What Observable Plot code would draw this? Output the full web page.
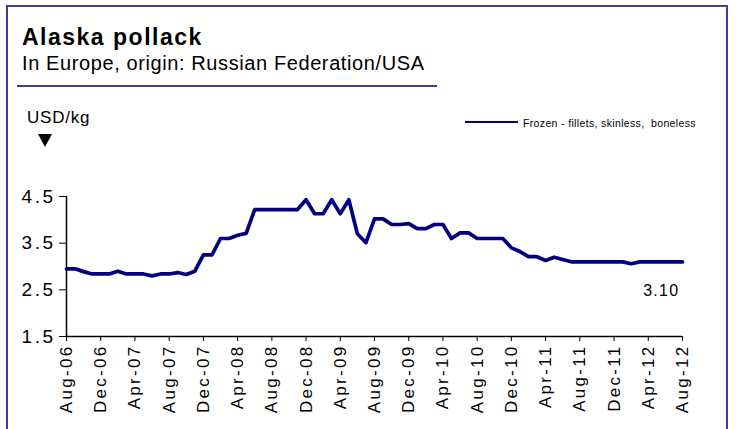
<!DOCTYPE html>
<html><head><meta charset="utf-8">
<script src="https://cdn.jsdelivr.net/npm/d3@7"></script>
<script src="https://cdn.jsdelivr.net/npm/@observablehq/plot@0.6"></script>
<style>
body{margin:0;background:#fff;font-family:"Liberation Sans",Arial,sans-serif;color:#000;}
#wrap{position:relative;width:739px;height:429px;overflow:hidden;background:#fff;}
#frame{position:absolute;left:6px;top:5px;width:722px;height:440px;border:2px solid #3c3ca8;box-sizing:border-box;}
.t{position:absolute;line-height:1;white-space:nowrap;}
#title{left:22px;top:25.5px;font-size:23px;font-weight:bold;letter-spacing:1.5px;}
#subtitle{left:22px;top:52.5px;font-size:20px;letter-spacing:0.6px;}
#rule{position:absolute;left:17px;top:85px;width:420px;height:2px;background:#3c3ca8;}
#unit{left:27px;top:109px;font-size:17px;letter-spacing:0.8px;}
#tri{position:absolute;left:38px;top:134px;width:0;height:0;border-left:7px solid transparent;border-right:7px solid transparent;border-top:13px solid #000;}
#legline{position:absolute;left:465px;top:121px;width:53px;height:2px;background:#000080;}
#legtext{left:523px;top:118px;font-size:10.5px;letter-spacing:0.35px;}
#chart{position:absolute;left:0;top:0;}
g[aria-label="y-axis tick label"] text{letter-spacing:2.5px;}
g[aria-label="x-axis tick label"] text{letter-spacing:2.3px;}
g[aria-label="text"] text{letter-spacing:1.3px;}
</style>
</head><body>
<div id="wrap">
  <div id="chart"></div>
  <div id="frame"></div>
  <div class="t" id="title">Alaska pollack</div>
  <div class="t" id="subtitle">In Europe, origin: Russian Federation/USA</div>
  <div id="rule"></div>
  <div class="t" id="unit">USD/kg</div>
  <div id="tri"></div>
  <div id="legline"></div>
  <div class="t" id="legtext">Frozen - fillets, skinless,&nbsp; boneless</div>
</div>
<script>
const months = [
  "Aug-06","Sep-06","Oct-06","Nov-06","Dec-06",
  "Jan-07","Feb-07","Mar-07","Apr-07","May-07","Jun-07","Jul-07","Aug-07","Sep-07","Oct-07","Nov-07","Dec-07",
  "Jan-08","Feb-08","Mar-08","Apr-08","May-08","Jun-08","Jul-08","Aug-08","Sep-08","Oct-08","Nov-08","Dec-08",
  "Jan-09","Feb-09","Mar-09","Apr-09","May-09","Jun-09","Jul-09","Aug-09","Sep-09","Oct-09","Nov-09","Dec-09",
  "Jan-10","Feb-10","Mar-10","Apr-10","May-10","Jun-10","Jul-10","Aug-10","Sep-10","Oct-10","Nov-10","Dec-10",
  "Jan-11","Feb-11","Mar-11","Apr-11","May-11","Jun-11","Jul-11","Aug-11","Sep-11","Oct-11","Nov-11","Dec-11",
  "Jan-12","Feb-12","Mar-12","Apr-12","May-12","Jun-12","Jul-12","Aug-12"
];
const frozenFillets = [
  2.95,2.95,2.89,2.84,2.84,
  2.84,2.90,2.84,2.84,2.84,2.80,2.84,2.84,2.87,2.83,2.90,3.25,
  3.25,3.60,3.60,3.67,3.71,4.22,4.22,4.22,4.22,4.22,4.22,4.43,
  4.13,4.13,4.43,4.13,4.43,3.70,3.51,4.02,4.02,3.90,3.90,3.92,
  3.81,3.81,3.90,3.90,3.60,3.72,3.72,3.60,3.60,3.60,3.60,3.40,
  3.32,3.21,3.21,3.13,3.20,3.15,3.10,3.10,3.10,3.10,3.10,3.10,
  3.10,3.06,3.10,3.10,3.10,3.10,3.10,3.10
];
const xTickLabels = ["Aug-06","Dec-06","Apr-07","Aug-07","Dec-07","Apr-08","Aug-08","Dec-08","Apr-09","Aug-09","Dec-09","Apr-10","Aug-10","Dec-10","Apr-11","Aug-11","Dec-11","Apr-12","Aug-12"];
const yTicks = [1.5, 2.5, 3.5, 4.5];
const yDomain = [1.5, 4.5];

const data = months.map((m, i) => ({month: m, value: frozenFillets[i]}));
const last = data[data.length - 1];

const chart = Plot.plot({
  width: 739, height: 429,
  marginLeft: 66, marginRight: 57, marginTop: 196, marginBottom: 93,
  style: {fontFamily: "Liberation Sans, Arial, sans-serif", background: "transparent", color: "#000"},
  x: {type: "point", domain: months, padding: 0},
  y: {domain: yDomain},
  marks: [
    Plot.axisY({ticks: yTicks, tickFormat: d => d.toFixed(1), tickSize: 7, tickPadding: 4, fontSize: 19, label: null}),
    Plot.axisX({ticks: xTickLabels, tickRotate: -90, tickSize: 5, tickPadding: 3, fontSize: 17, label: null}),
    Plot.ruleX([months[0]], {y1: yDomain[0], y2: yDomain[1], stroke: "#000", strokeWidth: 1.5}),
    Plot.ruleY([yDomain[0]], {stroke: "#000", strokeWidth: 1.5}),
    Plot.line(data, {x: "month", y: "value", stroke: "#000080", strokeWidth: 3.7}),
    Plot.text([last], {x: "month", y: "value", text: d => d.value.toFixed(2), dy: 29, dx: -3, textAnchor: "end", fontSize: 16})
  ]
});
document.getElementById("chart").append(chart);
</script>
</body></html>
